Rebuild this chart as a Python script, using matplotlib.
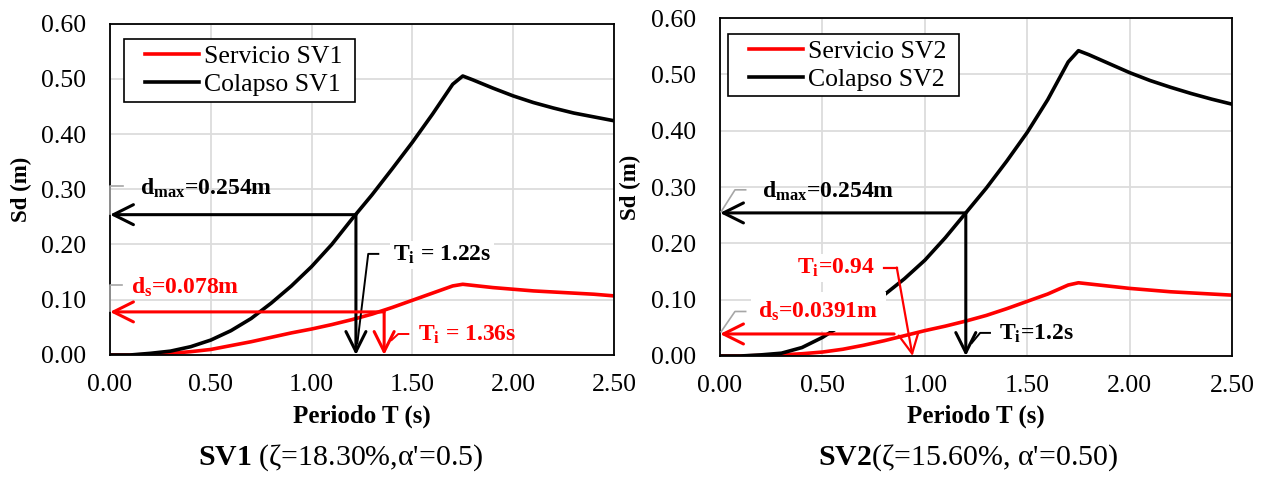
import matplotlib
matplotlib.use('Agg')
import matplotlib.pyplot as plt
from matplotlib.legend_handler import HandlerLine2D
from matplotlib.lines import Line2D

# ---------------- data ----------------
T = [0.0, 0.1, 0.2, 0.3, 0.4, 0.5, 0.6, 0.7, 0.8, 0.9, 1.0, 1.1, 1.2, 1.3,
     1.4, 1.5, 1.6, 1.7, 1.75, 1.8, 1.9, 2.0, 2.1, 2.2, 2.3, 2.4, 2.5]

serv_sv1 = [0.000, 0.000, 0.001, 0.003, 0.006, 0.010, 0.017, 0.024, 0.032, 0.040,
            0.047, 0.055, 0.064, 0.074, 0.086, 0.099, 0.112, 0.125, 0.128, 0.126,
            0.122, 0.119, 0.116, 0.114, 0.112, 0.110, 0.107]
col_sv1 = [0.000, 0.000, 0.003, 0.007, 0.015, 0.027, 0.044, 0.066, 0.094, 0.125,
           0.160, 0.200, 0.246, 0.290, 0.337, 0.385, 0.436, 0.490, 0.505, 0.498,
           0.483, 0.469, 0.457, 0.447, 0.438, 0.431, 0.424]

serv_sv2 = [0.000, 0.000, 0.001, 0.002, 0.004, 0.007, 0.012, 0.019, 0.027, 0.036,
            0.045, 0.053, 0.062, 0.072, 0.084, 0.097, 0.110, 0.126, 0.130, 0.128,
            0.124, 0.120, 0.117, 0.114, 0.112, 0.110, 0.108]
col_sv2 = [0.000, 0.000, 0.002, 0.005, 0.015, 0.033, 0.056, 0.081, 0.108, 0.137,
           0.170, 0.210, 0.254, 0.298, 0.346, 0.397, 0.455, 0.522, 0.542, 0.535,
           0.519, 0.503, 0.489, 0.477, 0.466, 0.456, 0.447]

# performance points
dmax_sv1, Ti_col_sv1 = 0.254, 1.22
ds_sv1, Ti_serv_sv1 = 0.078, 1.36
dmax_sv2, Ti_col_sv2 = 0.254, 1.2
ds_sv2, Ti_serv_sv2 = 0.0391, 0.94

x_ticks = [0.0, 0.5, 1.0, 1.5, 2.0, 2.5]
y_ticks = [0.0, 0.1, 0.2, 0.3, 0.4, 0.5, 0.6]

# ---------------- style ----------------
plt.rcParams['font.family'] = ['Liberation Serif', 'DejaVu Serif']
plt.rcParams['mathtext.fontset'] = 'custom'
plt.rcParams['mathtext.rm'] = 'Liberation Serif'
plt.rcParams['mathtext.bf'] = 'Liberation Serif:bold'
plt.rcParams['mathtext.it'] = 'Liberation Serif:italic'

RED = '#ff0000'
GRID = '#dcdcdc'
TICK_FS = 18.5
ANN_FS = 17

fig = plt.figure(figsize=(12.63, 4.79), dpi=100)
ax1 = fig.add_axes([0.0871, 0.2589, 0.3990, 0.6920])
ax2 = fig.add_axes([0.5701, 0.2568, 0.4054, 0.7056])


def style_axes(ax):
    ax.set_xlim(0, 2.5)
    ax.set_ylim(0, 0.6)
    ax.set_xticks(x_ticks)
    ax.set_yticks(y_ticks)
    ax.set_xticklabels([f'{v:.2f}' for v in x_ticks])
    ax.set_yticklabels([f'{v:.2f}' for v in y_ticks])
    ax.tick_params(axis='both', length=0, labelsize=TICK_FS)
    ax.tick_params(axis='x', pad=14)
    ax.tick_params(axis='y', pad=17)
    ax.grid(True, color=GRID, lw=1.3)
    ax.set_axisbelow(True)
    for s in ax.spines.values():
        s.set_color('black')
        s.set_linewidth(1.3)
    ax.set_ylabel('Sd (m)', fontsize=16.5, fontweight='bold', va='center')
    ax.yaxis.set_label_coords(-0.175, 0.5)


def add_legend(ax, anchor):
    leg = ax.legend(loc='upper left', bbox_to_anchor=anchor, fontsize=TICK_FS,
                    frameon=True, fancybox=False, edgecolor='black', framealpha=1,
                    borderaxespad=0, handlelength=2.7, handletextpad=0.2,
                    labelspacing=0.2, borderpad=0.22,
                    handler_map={Line2D: HandlerLine2D(xpad=0.6)})
    leg.get_frame().set_linewidth(1.2)


def harrow(ax, x0, y, color, lw=2.2):
    ax.annotate('', xy=(0, y), xytext=(x0, y),
                arrowprops=dict(arrowstyle='->,head_length=0.72,head_width=0.36',
                                color=color, lw=lw, shrinkA=0, shrinkB=0,
                                mutation_scale=20),
                annotation_clip=False, zorder=4)


def varrow(ax, x, y0, color, lw=2.2):
    ax.annotate('', xy=(x, 0), xytext=(x, y0),
                arrowprops=dict(arrowstyle='->,head_length=0.72,head_width=0.36',
                                color=color, lw=lw, shrinkA=0, shrinkB=0,
                                mutation_scale=20),
                annotation_clip=False, zorder=4)


for ax in (ax1, ax2):
    style_axes(ax)

# ---------------- left panel ----------------
ax1.plot(T, serv_sv1, color=RED, lw=2.6, label='Servicio SV1 ', zorder=2)
ax1.plot(T, col_sv1, color='black', lw=2.6, label='Colapso SV1 ', zorder=2)
add_legend(ax1, (0.028, 0.952))

harrow(ax1, Ti_col_sv1, dmax_sv1, 'black')
varrow(ax1, Ti_col_sv1, dmax_sv1, 'black')
harrow(ax1, Ti_serv_sv1, ds_sv1, RED)
varrow(ax1, Ti_serv_sv1, ds_sv1, RED)

# gray data-label leaders
ax1.plot([0, 0, 0.066], [0.255, 0.305, 0.305], color='#a6a6a6', lw=1.2, clip_on=False, zorder=3)
ax1.plot([0, 0, 0.058], [0.080, 0.126, 0.126], color='#a6a6a6', lw=1.2, clip_on=False, zorder=3)

ax1.text(0.149, 0.302, r'd$_{\mathbf{max}}$=0.254m', fontsize=ANN_FS, fontweight='bold',
         va='center', ha='left', color='black')
ax1.text(0.104, 0.122, r'd$_{\mathbf{s}}$=0.078m', fontsize=ANN_FS, fontweight='bold',
         va='center', ha='left', color=RED)

ax1.text(1.405, 0.181, r'T$_{\mathbf{i}}$ = 1.22s', fontsize=ANN_FS, fontweight='bold',
         va='center', ha='left', color='black',
         bbox=dict(facecolor='white', edgecolor='none', pad=2))
ax1.plot([1.331, 1.281, 1.227], [0.183, 0.183, 0.021], color='black', lw=1.4, zorder=3)

ax1.text(1.53, 0.036, r'T$_{\mathbf{i}}$ = 1.36s', fontsize=ANN_FS, fontweight='bold',
         va='center', ha='left', color=RED)
ax1.plot([1.48, 1.43, 1.397], [0.038, 0.038, 0.027], color=RED, lw=1.4, zorder=3)

# ---------------- right panel ----------------
ax2.plot(T, serv_sv2, color=RED, lw=2.6, label='Servicio SV2 ', zorder=2)
ax2.plot(T, col_sv2, color='black', lw=2.6, label='Colapso SV2 ', zorder=2)
add_legend(ax2, (0.016, 0.953))

harrow(ax2, Ti_col_sv2, dmax_sv2, 'black')
varrow(ax2, Ti_col_sv2, dmax_sv2, 'black')
harrow(ax2, 0.85, ds_sv2, RED)

ax2.plot([0.005, 0.073, 0.125], [0.256, 0.295, 0.295], color='#a6a6a6', lw=1.2, clip_on=False, zorder=3)
ax2.plot([0.005, 0.073, 0.125], [0.043, 0.079, 0.079], color='#a6a6a6', lw=1.2, clip_on=False, zorder=3)

ax2.text(0.204, 0.292, r'd$_{\mathbf{max}}$=0.254m', fontsize=ANN_FS, fontweight='bold',
         va='center', ha='left', color='black')
ax2.text(0.187, 0.079, r'd$_{\mathbf{s}}$=0.0391m', fontsize=ANN_FS, fontweight='bold',
         va='center', ha='left', color=RED, zorder=5,
         bbox=dict(facecolor='white', edgecolor='none', pad=5.5))

ax2.text(0.374, 0.156, r'T$_{\mathbf{i}}$=0.94', fontsize=ANN_FS, fontweight='bold',
         va='center', ha='left', color=RED,
         bbox=dict(facecolor='white', edgecolor='none', pad=2))
ax2.plot([0.80, 0.863], [0.157, 0.157], color=RED, lw=1.6, zorder=6)
ax2.annotate('', xy=(Ti_serv_sv2, 0), xytext=(0.863, 0.157),
             arrowprops=dict(arrowstyle='->,head_length=0.72,head_width=0.36',
                             color=RED, lw=1.6, shrinkA=0, shrinkB=0, mutation_scale=20),
             annotation_clip=False, zorder=6)

ax2.text(1.36, 0.040, r'T$_{\mathbf{i}}$=1.2s', fontsize=ANN_FS, fontweight='bold',
         va='center', ha='left', color='black')
ax2.plot([1.318, 1.27, 1.229], [0.041, 0.041, 0.023], color='black', lw=1.4, zorder=3)

# ---------------- x labels & subtitles ----------------
for ax in (ax1, ax2):
    bb = ax.get_position()
    cx = (bb.x0 + bb.x1) / 2
    fig.text(cx, 1 - 416 / 479, 'Periodo T (s)', fontsize=18, fontweight='bold',
             ha='center', va='center')

fig.text(341 / 1263, 1 - 458 / 479, r"$\mathbf{SV1}$ (ζ=18.30%,α'=0.5)", fontsize=21.5,
         ha='center', va='center')
fig.text(968 / 1263, 1 - 458 / 479, r"$\mathbf{SV2}$(ζ=15.60%, α'=0.50)", fontsize=21.5,
         ha='center', va='center')

fig.savefig('out.png', dpi=100)
